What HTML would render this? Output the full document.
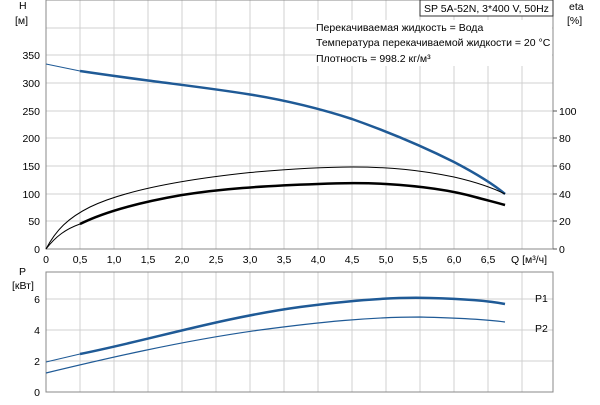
<!DOCTYPE html>
<html><head><meta charset="utf-8"><style>
body{margin:0;background:#fff;}
text{font-family:"Liberation Sans",sans-serif;font-size:10.5px;fill:#000;}
</style></head><body>
<svg width="600" height="400" xmlns="http://www.w3.org/2000/svg">
<g stroke="#d0d0d0" stroke-width="1">
<line x1="80" y1="0" x2="80" y2="249"/><line x1="114" y1="0" x2="114" y2="249"/><line x1="148" y1="0" x2="148" y2="249"/><line x1="182" y1="0" x2="182" y2="249"/><line x1="216" y1="0" x2="216" y2="249"/><line x1="250" y1="0" x2="250" y2="249"/><line x1="284" y1="0" x2="284" y2="249"/><line x1="318" y1="0" x2="318" y2="249"/><line x1="352" y1="0" x2="352" y2="249"/><line x1="386" y1="0" x2="386" y2="249"/><line x1="420" y1="0" x2="420" y2="249"/><line x1="454" y1="0" x2="454" y2="249"/><line x1="488" y1="0" x2="488" y2="249"/><line x1="522" y1="0" x2="522" y2="249"/>
<line x1="46" y1="221" x2="553" y2="221"/><line x1="46" y1="194" x2="553" y2="194"/><line x1="46" y1="166" x2="553" y2="166"/><line x1="46" y1="138" x2="553" y2="138"/><line x1="46" y1="111" x2="553" y2="111"/><line x1="46" y1="83" x2="553" y2="83"/><line x1="46" y1="55" x2="553" y2="55"/><line x1="46" y1="28" x2="553" y2="28"/>
<line x1="80" y1="272" x2="80" y2="392"/><line x1="114" y1="272" x2="114" y2="392"/><line x1="148" y1="272" x2="148" y2="392"/><line x1="182" y1="272" x2="182" y2="392"/><line x1="216" y1="272" x2="216" y2="392"/><line x1="250" y1="272" x2="250" y2="392"/><line x1="284" y1="272" x2="284" y2="392"/><line x1="318" y1="272" x2="318" y2="392"/><line x1="352" y1="272" x2="352" y2="392"/><line x1="386" y1="272" x2="386" y2="392"/><line x1="420" y1="272" x2="420" y2="392"/><line x1="454" y1="272" x2="454" y2="392"/><line x1="488" y1="272" x2="488" y2="392"/><line x1="522" y1="272" x2="522" y2="392"/>
<line x1="46" y1="361" x2="553" y2="361"/><line x1="46" y1="330" x2="553" y2="330"/><line x1="46" y1="299" x2="553" y2="299"/>
</g>
<g stroke="#888" fill="none"><rect x="46" y="0" width="507" height="249"/><rect x="46" y="272" width="507" height="120"/></g>
<g stroke="#555"><line x1="553" y1="111" x2="557" y2="111"/><line x1="553" y1="138" x2="557" y2="138"/><line x1="553" y1="166" x2="557" y2="166"/><line x1="553" y1="194" x2="557" y2="194"/><line x1="553" y1="221" x2="557" y2="221"/><line x1="553" y1="249" x2="557" y2="249"/></g>
<rect x="316" y="20" width="236" height="46" fill="#fff"/>
<rect x="420" y="0" width="133" height="16" fill="#fff" stroke="#333"/>
<text x="424" y="12">SP 5A-52N, 3*400 V, 50Hz</text>
<text x="316" y="31">Перекачиваемая жидкость = Вода</text>
<text x="316" y="46">Температура перекачиваемой жидкости = 20 °C</text>
<text x="316" y="62">Плотность = 998.2 кг/м³</text>
<text x="19" y="9">H</text><text x="15" y="24">[м]</text>
<text x="569" y="10">eta</text><text x="567" y="24">[%]</text>
<g text-anchor="end"><text x="40" y="59">350</text><text x="40" y="87">300</text><text x="40" y="115">250</text><text x="40" y="142">200</text><text x="40" y="170">150</text><text x="40" y="198">100</text><text x="40" y="225">50</text><text x="40" y="253">0</text>
<text x="40" y="303">6</text><text x="40" y="334">4</text><text x="40" y="365">2</text><text x="40" y="396">0</text></g>
<g><text x="559" y="115">100</text><text x="559" y="142">80</text><text x="559" y="170">60</text><text x="559" y="198">40</text><text x="559" y="225">20</text><text x="559" y="253">0</text></g>
<g text-anchor="middle"><text x="46" y="263">0</text><text x="80" y="263">0,5</text><text x="114" y="263">1,0</text><text x="148" y="263">1,5</text><text x="182" y="263">2,0</text><text x="216" y="263">2,5</text><text x="250" y="263">3,0</text><text x="284" y="263">3,5</text><text x="318" y="263">4,0</text><text x="352" y="263">4,5</text><text x="386" y="263">5,0</text><text x="420" y="263">5,5</text><text x="454" y="263">6,0</text><text x="488" y="263">6,5</text></g>
<text x="511" y="263">Q [м³/ч]</text>
<text x="19" y="275">P</text><text x="12" y="289">[кВт]</text>
<text x="535" y="302">P1</text><text x="535" y="332">P2</text>
<path d="M46,64 L80,71" stroke="#1f5a96" stroke-width="1" fill="none"/>
<path d="M80,71 C100,74 114,76 148,80.5 C182,85 216,89 250,94.5 C284,100 318,108 352,119 C386,131 420,145 454,162 C475,173 492,183 505,194" stroke="#1f5a96" stroke-width="2.5" fill="none" stroke-linejoin="round"/>
<path d="M46,249 C56,230 68,218 90,207 C115,195 160,182 250,172.5 C290,169 320,167 352,167 C390,167 420,170 454,177 C480,183 495,189 505,194" stroke="#000" stroke-width="1" fill="none"/>
<path d="M46,249 C56,236 66,229 80,224 C100,214 130,204 182,195 C220,189 260,186 318,184 C340,183 360,182.5 386,184 C420,186 450,190 475,197 C490,201 498,203 505,205" stroke="#000" stroke-width="1" fill="none"/>
<path d="M80,224 C100,214 130,204 182,195 C220,189 260,186 318,184 C340,183 360,182.5 386,184 C420,186 450,190 475,197 C490,201 498,203 505,205" stroke="#000" stroke-width="2.5" fill="none"/>
<path d="M46,362 L80,354" stroke="#1f5a96" stroke-width="1" fill="none"/>
<path d="M80,354 C150,340 220,318 300,307 C360,299 400,297 430,298 C470,299 490,301 505,304" stroke="#1f5a96" stroke-width="2.5" fill="none"/>
<path d="M46,373 C100,360 180,341 260,330 C320,322 370,317 420,317 C460,318 490,320 505,322" stroke="#1f5a96" stroke-width="1.2" fill="none"/>
</svg>
</body></html>
